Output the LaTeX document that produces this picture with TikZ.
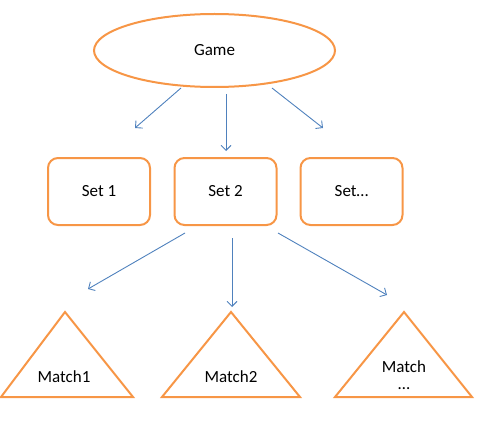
\documentclass[tikz,border=0pt]{standalone}
\usepackage{fontspec}
\setmainfont{Carlito}
\usetikzlibrary{shapes.geometric,arrows.meta}
\definecolor{ora}{RGB}{247,150,70}
\definecolor{blu}{RGB}{79,129,189}
\tikzset{
  orashape/.style={draw=ora, line width=2pt, fill=white, font=\fontsize{17}{20}\selectfont, inner sep=0pt},
  setbox/.style={orashape, rectangle, rounded corners=10pt, minimum width=102pt, minimum height=67pt},
  conn/.style={draw=blu, line width=0.9pt, -{Straight Barb[length=5pt,width=10pt]}},
  tri/.style={draw=ora, line width=2pt, line join=miter},
  lbl/.style={font=\fontsize{17}{20}\selectfont, inner sep=0pt, align=center}
}
\begin{document}
\begin{tikzpicture}[x=1pt,y=-1pt]
\useasboundingbox (0,0) rectangle (487,425);
\node[orashape, ellipse, minimum width=241pt, minimum height=73pt] (game) at (214.5,50.5) {Game};
\node[setbox] (s1) at (99,191.5) {Set 1};
\node[setbox] (s2) at (225.5,191.5) {Set 2};
\node[setbox] (s3) at (351.5,191.5) {Set\dots};
% triangles
\coordinate (t1a) at (65,312); \coordinate (t1l) at (1,397); \coordinate (t1r) at (133,397);
\coordinate (t2a) at (231,312); \coordinate (t2l) at (162,397); \coordinate (t2r) at (300,397);
\coordinate (t3a) at (404,312); \coordinate (t3l) at (335,397); \coordinate (t3r) at (472,397);
\draw[tri] (t1a) -- (t1l) -- (t1r) -- cycle;
\draw[tri] (t2a) -- (t2l) -- (t2r) -- cycle;
\draw[tri] (t3a) -- (t3l) -- (t3r) -- cycle;
\node[lbl] (m1) at (64,377) {Match1};
\node[lbl] (m2) at (231,377) {Match2};
\node[lbl] (m3) at (404,367) {Match};
\node[lbl] (m3b) at (404,389) {\dots};
% arrow free ends
\coordinate (g1) at (181,88); \coordinate (e1) at (135,128);
\coordinate (g2) at (226,94); \coordinate (e2) at (226,151);
\coordinate (g3) at (272,88); \coordinate (e3) at (323,128);
\coordinate (k1) at (185,233); \coordinate (f1) at (88,289);
\coordinate (k2) at (232,238); \coordinate (f2) at (232,307);
\coordinate (k3) at (278,233); \coordinate (f3) at (387,295);
\draw[conn] (g1) -- (e1);
\draw[conn] (g2) -- (e2);
\draw[conn] (g3) -- (e3);
\draw[conn] (k1) -- (f1);
\draw[conn] (k2) -- (f2);
\draw[conn] (k3) -- (f3);
\end{tikzpicture}
\end{document}
